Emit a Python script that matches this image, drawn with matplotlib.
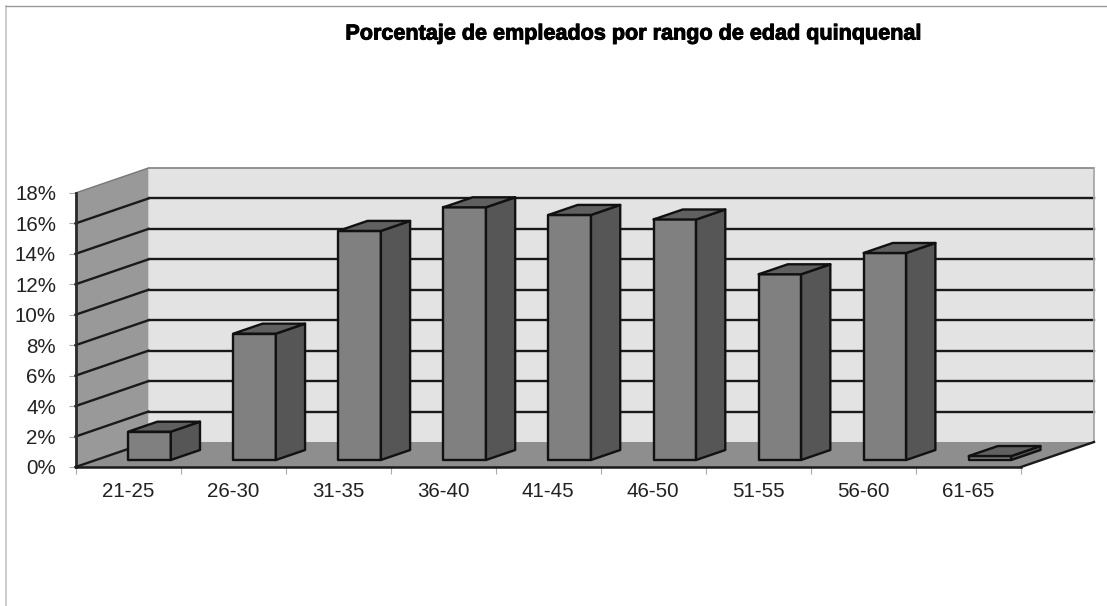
import matplotlib
matplotlib.use("Agg")
import matplotlib.pyplot as plt
import matplotlib.patheffects as pe
from matplotlib.lines import Line2D

plt.rcParams['font.family'] = ['Liberation Sans', 'DejaVu Sans']

title = "Porcentaje de empleados por rango de edad quinquenal"
categories = ["21-25", "26-30", "31-35", "36-40", "41-45", "46-50", "51-55", "56-60", "61-65"]
values = [1.86, 8.3, 15.05, 16.6, 16.1, 15.8, 12.2, 13.6, 0.26]
y_ticks = [0, 2, 4, 6, 8, 10, 12, 14, 16, 18]

W, H = 1107, 606
fig = plt.figure(figsize=(W / 100, H / 100), dpi=100, facecolor="white")
ax = fig.add_axes([75.5 / W, (H - 467) / H, 945.5 / W, 274 / H], facecolor="none")
ax.set_xlim(0, len(categories))
ax.set_ylim(0, 18)

# oblique projection: depth d in 0..1 shifts a point right and up
DX, DY = 73 / 105.05, 25 / 15.22
def P(x, y, d=0.0):
    return (x + DX * d, y + DY * d)

def poly(pts, fc, ec="none", lw=0, z=1):
    ax.fill(*zip(*pts), facecolor=fc, edgecolor=ec, linewidth=lw, zorder=z,
            clip_on=False, joinstyle="round")

def seg(a, b, c="#1a1a1a", lw=1.7, z=2):
    ax.add_line(Line2D(*zip(a, b), color=c, linewidth=lw, zorder=z, clip_on=False))

n = len(categories)
# walls and floor
poly([P(0, 0, 1), P(n, 0, 1), P(n, 18, 1), P(0, 18, 1)], "#e3e3e3")
poly([P(0, 0), P(0, 0, 1), P(0, 18, 1), P(0, 18)], "#999999")
poly([P(0, 0), P(n, 0), P(n, 0, 1), P(0, 0, 1)], "#8e8e8e")

# gridlines on the walls
for v in y_ticks[1:-1]:
    seg(P(0, v), P(0, v, 1))
    seg(P(0, v, 1), P(n, v, 1))
seg(P(0, 18), P(0, 18, 1), c="#777777", lw=1.0)
seg(P(0, 18, 1), P(n, 18, 1), c="#8a8a8a", lw=1.3)
seg(P(n, 0, 1), P(n, 18, 1), c="#a8a8a8", lw=1.3)
seg(P(0, 0), P(0, 18), c="#2a2a2a", lw=2.0)
seg(P(0, 0), P(0, 0, 1))
seg(P(0, 0), P(n, 0), lw=1.8)
seg(P(n, 0), P(n, 0, 1))

# bars
BW, D0, D1, SHIFT = 0.405, 0.28, 0.68, 0.01
for i, v in enumerate(values):
    l, r = i + 0.5 + SHIFT - BW / 2, i + 0.5 + SHIFT + BW / 2
    poly([P(l, 0, D0), P(r, 0, D0), P(r, v, D0), P(l, v, D0)], "#808080", "#111111", 1.7, 3)
    poly([P(r, 0, D0), P(r, 0, D1), P(r, v, D1), P(r, v, D0)], "#565656", "#111111", 1.7, 3)
    poly([P(l, v, D0), P(r, v, D0), P(r, v, D1), P(l, v, D1)], "#606060", "#111111", 1.7, 3)

# axes, ticks and labels
for s in ax.spines.values():
    s.set_visible(False)
ax.set_yticks(y_ticks, [f"{v}%" for v in y_ticks])
ax.set_xticks(range(n + 1), [""] * (n + 1))
ax.set_xticks([i + 0.5 for i in range(n)], categories, minor=True)
ax.tick_params(axis="y", length=5, width=0.8, color="#aaaaaa", pad=9,
               labelsize=14.8, labelcolor="#222222")
ax.tick_params(axis="x", which="major", length=5, width=0.8, color="#aaaaaa")
ax.tick_params(axis="x", which="minor", length=0, pad=10.5, labelsize=14.8, labelcolor="#222222")

fig.text(634.5 / W, (H - 34) / H, title, ha="center", va="center", fontsize=15.55,
         fontweight="bold", color="#000000",
         path_effects=[pe.withStroke(linewidth=0.7, foreground="#000000")])

# page frame: only the left and top rules show
fig.add_artist(Line2D([5.5 / W, 5.5 / W], [0, (H - 5.5) / H], color="#c4c4c4", linewidth=1.2))
fig.add_artist(Line2D([5.5 / W, 1], [(H - 5.5) / H, (H - 5.5) / H], color="#9a9a9a", linewidth=1.0))

fig.savefig("out.png", dpi=100, facecolor="white")
